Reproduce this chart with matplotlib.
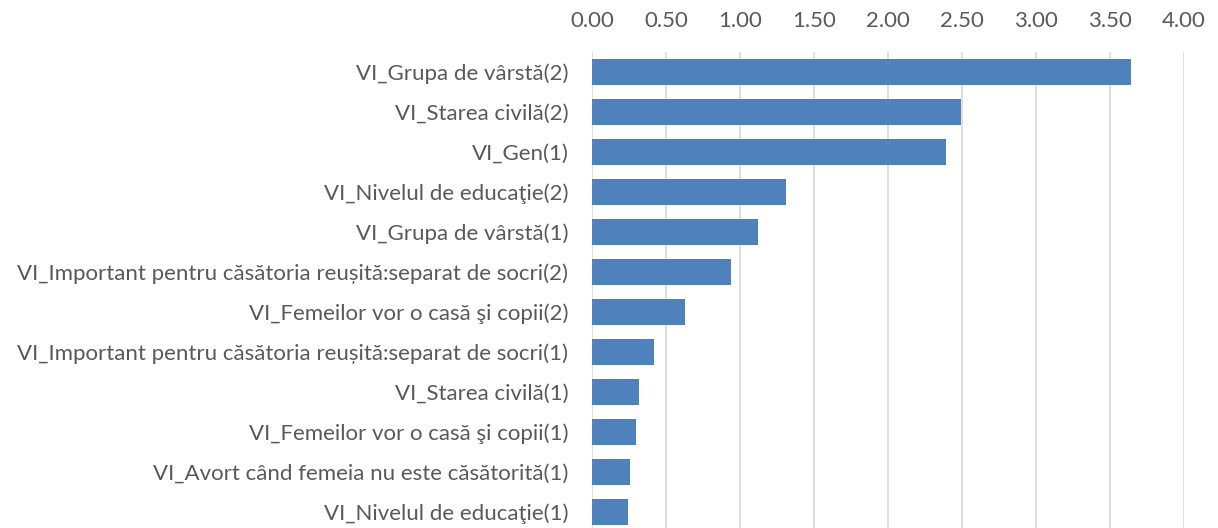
import matplotlib.pyplot as plt
import numpy as np

labels = [
    "VI_Grupa de vârstă(2)",
    "VI_Starea civilă(2)",
    "VI_Gen(1)",
    "VI_Nivelul de educaţie(2)",
    "VI_Grupa de vârstă(1)",
    "VI_Important pentru căsătoria reușită:separat de socri(2)",
    "VI_Femeilor vor o casă şi copii(2)",
    "VI_Important pentru căsătoria reușită:separat de socri(1)",
    "VI_Starea civilă(1)",
    "VI_Femeilor vor o casă şi copii(1)",
    "VI_Avort când femeia nu este căsătorită(1)",
    "VI_Nivelul de educaţie(1)",
]
values = [3.64, 2.49, 2.39, 1.31, 1.12, 0.94, 0.63, 0.42, 0.32, 0.30, 0.26, 0.24]
xticks = [0, 0.5, 1.0, 1.5, 2.0, 2.5, 3.0, 3.5, 4.0]

plt.rcParams['font.family'] = ['Lato', 'DejaVu Sans']

fig = plt.figure(figsize=(12.18, 5.28), dpi=100)
ax = fig.add_axes([592 / 1218, -4 / 528, 592 / 1218, 480 / 528])

y = np.arange(len(labels))
ax.barh(y, values, height=0.65, color="#4f81bd", zorder=3)

ax.set_ylim(len(labels) - 0.5, -0.5)
ax.set_xlim(0, 4.0)
ax.set_yticks(y)
ax.set_yticklabels(labels)
ax.set_xticks(xticks)
ax.set_xticklabels(["%.2f" % v for v in xticks])

ax.xaxis.tick_top()
ax.tick_params(axis="x", length=0, pad=15, labelsize=16, labelcolor="#595959")
ax.tick_params(axis="y", length=0, pad=17, labelsize=16, labelcolor="#595959")

ax.grid(axis="x", color="#d9d9d9", linewidth=1.2, zorder=0)
for s in ax.spines.values():
    s.set_visible(False)

fig.savefig("out.png", dpi=100)
